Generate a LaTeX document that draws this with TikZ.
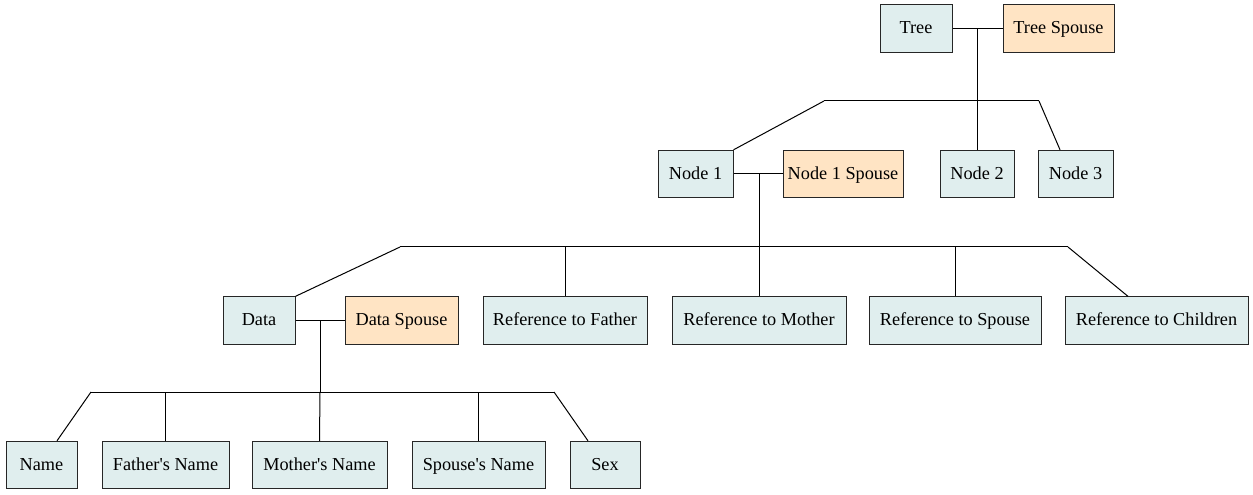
\documentclass[tikz,border=0pt]{standalone}
\usepackage{fontspec}
\setmainfont{Liberation Serif}
\definecolor{kidfill}{RGB}{224,238,238}
\definecolor{spousefill}{RGB}{255,228,196}
\tikzset{
  box/.style={draw=black!85, line width=0.75pt, fill=kidfill, minimum width=#1*0.75pt, minimum height=35.5pt, inner sep=0pt, text height=11pt, text depth=3pt, font=\fontsize{13.7}{16}\selectfont},
  spousebox/.style={box=#1, fill=spousefill},
  link/.style={line width=0.75pt}
}
\begin{document}
\begin{tikzpicture}[x=0.75pt,y=0.75pt,yscale=-1,xscale=1]
\useasboundingbox (0,0) rectangle (1253,495);
% top level
\node[box=72] (tree) at (916,28.5) {Tree};
\node[spousebox=111] (treesp) at (1058.5,28.5) {Tree Spouse};
\coordinate (j0) at (977,28.5);
\coordinate (bar0) at (977,101);
\coordinate (b0l) at (824,101);
\coordinate (b0r) at (1039,101);
% second level
\node[box=75] (node1) at (695.5,174) {Node 1};
\node[spousebox=120] (node1sp) at (843,174) {Node 1 Spouse};
\node[box=74] (node2) at (977,174) {Node 2};
\node[box=75] (node3) at (1075.5,174) {Node 3};
\coordinate (j1) at (759,174);
\coordinate (bar1) at (759,247);
\coordinate (b1l) at (400,247);
\coordinate (b1r) at (1068,247);
% third level
\node[box=72] (data) at (259,320.5) {Data};
\node[spousebox=113] (datasp) at (401.5,320.5) {Data Spouse};
\node[box=164] (reff) at (565,320.5) {Reference to Father};
\node[box=174] (refm) at (759,320.5) {Reference to Mother};
\node[box=172] (refs) at (955,320.5) {Reference to Spouse};
\node[box=183] (refc) at (1156.5,320.5) {Reference to Children};
\coordinate (j2) at (320,320.5);
\coordinate (bar2) at (320,392);
\coordinate (b2l) at (91,392);
\coordinate (b2r) at (554,392);
% fourth level
\node[box=71] (name) at (41.5,465) {Name};
\node[box=127] (fname) at (165.5,465) {Father\textquotesingle s Name};
\node[box=135] (mname) at (319.5,465) {Mother\textquotesingle s Name};
\node[box=133] (sname) at (478.5,465) {Spouse\textquotesingle s Name};
\node[box=70] (sex) at (605,465) {Sex};
% connectors
\draw[link] (tree.east) -- (treesp.west);
\draw[link] (j0) -- (bar0);
\draw[link] (b0l) -- (b0r);
\draw[link] (b0l) -- (node1.north east);
\draw[link] (bar0) -- (node2.north);
\draw[link] (b0r) -- ([xshift=-11.6pt]node3.north);
\draw[link] (node1.east) -- (node1sp.west);
\draw[link] (j1) -- (bar1);
\draw[link] (b1l) -- (b1r);
\draw[link] (b1l) -- (data.north east);
\draw[link] (reff.north |- b1l) -- (reff.north);
\draw[link] (bar1) -- (refm.north);
\draw[link] (refs.north |- b1l) -- (refs.north);
\draw[link] (b1r) -- ([xshift=-21.4pt]refc.north);
\draw[link] (data.east) -- (datasp.west);
\draw[link] (j2) -- (bar2);
\draw[link] (b2l) -- (b2r);
\draw[link] (b2l) -- ([xshift=11.6pt]name.north);
\draw[link] (fname.north |- b2l) -- (fname.north);
\draw[link] (bar2) -- (mname.north);
\draw[link] (sname.north |- b2l) -- (sname.north);
\draw[link] (b2r) -- ([xshift=-12.75pt]sex.north);
\end{tikzpicture}
\end{document}
